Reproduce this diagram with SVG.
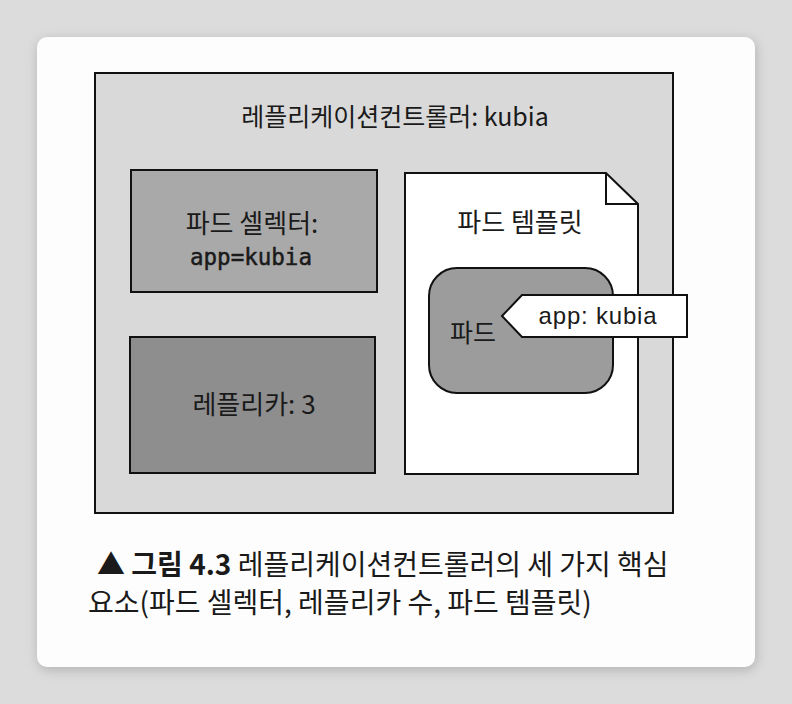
<svg xmlns="http://www.w3.org/2000/svg" width="792" height="704" viewBox="0 0 792 704">
<defs>
<filter id="sh" x="-10%" y="-10%" width="120%" height="120%"><feGaussianBlur stdDeviation="6"/></filter>
<style>
.t{font-family:"Noto Sans CJK KR","Liberation Sans",sans-serif;fill:#1a1a1a}
.s{stroke:#111;stroke-width:2}
</style>
</defs>
<rect width="792" height="704" fill="#dcdcdc"/>
<rect x="38" y="40" width="718" height="630" rx="10" fill="#888" opacity="0.5" filter="url(#sh)"/>
<rect x="37" y="37" width="718" height="630" rx="10" fill="#fdfdfd"/>
<g id="controller">
<rect x="95" y="73" width="578" height="440" fill="#d9d9d9" class="s"/>
<text class="t" x="395" y="126" font-size="25" text-anchor="middle">레플리케이션컨트롤러: kubia</text>
</g>
<g id="selector">
<rect x="131" y="170" width="246" height="122" fill="#a9a9a9" class="s"/>
<text class="t" x="252" y="233" font-size="26" text-anchor="middle">파드 셀렉터:</text>
<text x="251" y="265" font-size="22.5" stroke="#1a1a1a" stroke-width="0.5" text-anchor="middle" font-family="DejaVu Sans Mono, monospace" fill="#1a1a1a">app=kubia</text>
</g>
<g id="replicas">
<rect x="130" y="337" width="245" height="136" fill="#8e8e8e" class="s"/>
<text class="t" x="254" y="414" font-size="26" text-anchor="middle">레플리카: 3</text>
</g>
<g id="template">
<path d="M405 173 H606 L638 204 V474 H405 Z" fill="#fff" class="s"/>
<path d="M606 173 V204 H638" fill="none" class="s"/>
<text class="t" x="520" y="232" font-size="26" text-anchor="middle">파드 템플릿</text>
</g>
<g id="pod">
<rect x="429" y="268" width="184" height="125" rx="28" fill="#9c9c9c" class="s"/>
<text class="t" x="473" y="342" font-size="25" text-anchor="middle">파드</text>
</g>
<g id="label">
<path d="M502 316 L522 295 H687 V337 H522 Z" fill="#fff" class="s"/>
<text x="598" y="324" font-size="24" letter-spacing="0.8" text-anchor="middle" font-family="Liberation Sans, sans-serif" fill="#1a1a1a">app: kubia</text>
</g>
<g id="connectors"></g>
<g id="caption">
<text class="t" x="97" y="575" font-size="28"><tspan font-weight="bold">▲ 그림 4.3</tspan> 레플리케이션컨트롤러의 세 가지 핵심</text>
<text class="t" x="88" y="613" font-size="28">요소(파드 셀렉터, 레플리카 수, 파드 템플릿)</text>
</g>
</svg>
